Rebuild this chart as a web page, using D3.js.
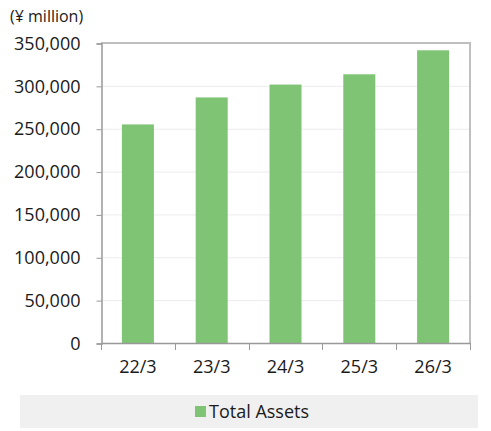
<!DOCTYPE html>
<html>
<head>
<meta charset="utf-8">
<script src="https://cdn.jsdelivr.net/npm/d3@7"></script>
<style>
  body { margin: 0; background: #fff; }
  text { font-family: "Open Sans", "DejaVu Sans", sans-serif; fill: #1a1a1a; }
</style>
</head>
<body>
<div id="chart"></div>
<script>
const categories = ["22/3", "23/3", "24/3", "25/3", "26/3"]
const totalAssets = [255000, 286500, 301500, 313500, 341500]
const yTicks = [0, 50000, 100000, 150000, 200000, 250000, 300000, 350000]
const seriesName = "Total Assets"
const unitLabel = "(¥ million)"

const W = 491, H = 431
const plot = { left: 101, right: 470, top: 43, bottom: 343 }
const green = "#7fc375"
const font = "Open Sans, DejaVu Sans, sans-serif"

const svg = d3.select("#chart").append("svg")
    .attr("width", W)
    .attr("height", H)

// band for each year; bars are drawn 32px wide in the middle
const x = d3.scaleBand()
    .domain(categories)
    .range([plot.left, plot.right])

const y = d3.scaleLinear()
    .domain([0, 350000])
    .range([plot.bottom, plot.top])

// grid lines
svg.append("g")
    .selectAll("line")
    .data(yTicks.filter(d => d > 0 && d < 350000))
    .join("line")
    .attr("x1", plot.left)
    .attr("x2", plot.right)
    .attr("y1", d => y(d) + 0.5)
    .attr("y2", d => y(d) + 0.5)
    .attr("stroke", "#ececec")

// bars
svg.append("g")
    .selectAll("rect")
    .data(totalAssets)
    .join("rect")
    .attr("x", (d, i) => x(categories[i]) + x.bandwidth() / 2 - 16)
    .attr("width", 32)
    .attr("y", d => y(d))
    .attr("height", d => y(0) - y(d))
    .attr("fill", green)

// top & right frame
svg.append("path")
    .attr("d", `M${plot.left},${plot.top} H${plot.right} V${plot.bottom}`)
    .attr("fill", "none")
    .attr("stroke", "#bfbfbf")
    .attr("stroke-width", 2)

// y axis
const yAxis = d3.axisLeft(y)
    .tickValues(yTicks)
    .tickSize(5)
    .tickPadding(16)
    .tickFormat(d3.format(","))

const gy = svg.append("g")
    .attr("transform", `translate(${plot.left + 0.5},0.5)`)
    .call(yAxis)
gy.select(".domain").attr("stroke", "#999").attr("stroke-width", 1.5)
gy.selectAll(".tick line").attr("stroke", "#999")
gy.selectAll(".tick text")
    .attr("font-size", 18)
    .attr("font-family", font)
    .attr("fill", "#1a1a1a")

// x axis
const xAxis = d3.axisBottom(x)
    .tickSize(0)
    .tickPadding(17)

const gx = svg.append("g")
    .attr("transform", `translate(0,${plot.bottom})`)
    .call(xAxis)
gx.select(".domain").attr("stroke", "#999").attr("stroke-width", 1.5)
gx.selectAll(".tick text")
    .attr("font-size", 18)
    .attr("font-family", font)
    .attr("fill", "#1a1a1a")

// x boundary ticks
svg.append("g")
    .selectAll("line")
    .data(d3.range(categories.length + 1))
    .join("line")
    .attr("x1", i => Math.round(plot.left + i * x.step()) + 0.5)
    .attr("x2", i => Math.round(plot.left + i * x.step()) + 0.5)
    .attr("y1", plot.bottom)
    .attr("y2", plot.bottom + 7)
    .attr("stroke", "#999")

// unit label
svg.append("text")
    .attr("x", 10)
    .attr("y", 22)
    .attr("font-size", 16)
    .text(unitLabel)

// legend
svg.append("rect")
    .attr("x", 20)
    .attr("y", 395)
    .attr("width", 458)
    .attr("height", 33)
    .attr("fill", "#f0f0f0")

svg.append("rect")
    .attr("x", 195)
    .attr("y", 406)
    .attr("width", 11)
    .attr("height", 11)
    .attr("fill", green)

svg.append("text")
    .attr("x", 209)
    .attr("y", 418)
    .attr("font-size", 18)
    .text(seriesName)
</script>
</body>
</html>
